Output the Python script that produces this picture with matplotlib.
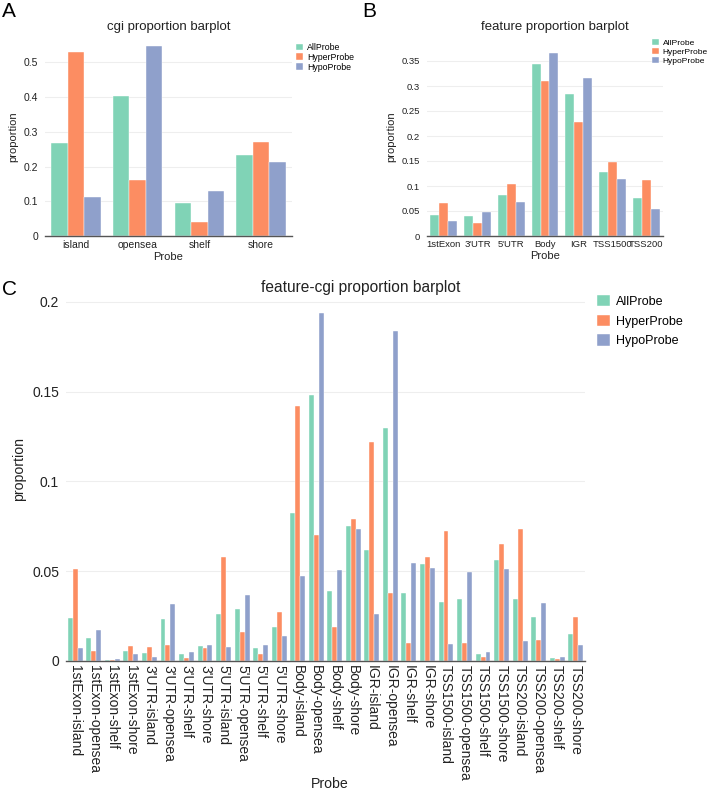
import numpy as np
import matplotlib
matplotlib.use("Agg")
import matplotlib.pyplot as plt

plt.rcParams['font.family'] = ['Liberation Sans', 'DejaVu Sans']

series = ["AllProbe", "HyperProbe", "HypoProbe"]
colors = ["#80d3b6", "#fc8d62", "#8fa0cb"]

# panel A
cgi_cats = ["island", "opensea", "shelf", "shore"]
cgi_all = [0.267, 0.404, 0.095, 0.234]
cgi_hyper = [0.530, 0.160, 0.039, 0.271]
cgi_hypo = [0.112, 0.547, 0.129, 0.213]

# panel B
feat_cats = ["1stExon", "3'UTR", "5'UTR", "Body", "IGR", "TSS1500", "TSS200"]
feat_all = [0.043, 0.041, 0.082, 0.345, 0.284, 0.128, 0.077]
feat_hyper = [0.067, 0.027, 0.105, 0.311, 0.229, 0.149, 0.112]
feat_hypo = [0.030, 0.049, 0.068, 0.366, 0.317, 0.115, 0.055]

# panel C
fc_cats = ["1stExon-island", "1stExon-opensea", "1stExon-shelf", "1stExon-shore",
           "3'UTR-island", "3'UTR-opensea", "3'UTR-shelf", "3'UTR-shore",
           "5'UTR-island", "5'UTR-opensea", "5'UTR-shelf", "5'UTR-shore",
           "Body-island", "Body-opensea", "Body-shelf", "Body-shore",
           "IGR-island", "IGR-opensea", "IGR-shelf", "IGR-shore",
           "TSS1500-island", "TSS1500-opensea", "TSS1500-shelf", "TSS1500-shore",
           "TSS200-island", "TSS200-opensea", "TSS200-shelf", "TSS200-shore"]
fc_all = [0.0237, 0.0130, 0.0006, 0.0054,
          0.0045, 0.0233, 0.0039, 0.0083,
          0.0260, 0.0289, 0.0070, 0.0189,
          0.0822, 0.1480, 0.0389, 0.0754,
          0.0617, 0.1296, 0.0381, 0.0539,
          0.0326, 0.0348, 0.0037, 0.0561,
          0.0343, 0.0244, 0.0017, 0.0148]
fc_hyper = [0.0515, 0.0056, 0.0003, 0.0085,
            0.0080, 0.0089, 0.0019, 0.0074,
            0.0578, 0.0159, 0.0039, 0.0272,
            0.1422, 0.0704, 0.0189, 0.0790,
            0.1222, 0.0376, 0.0098, 0.0580,
            0.0726, 0.0098, 0.0020, 0.0650,
            0.0737, 0.0117, 0.0011, 0.0244]
fc_hypo = [0.0074, 0.0174, 0.0010, 0.0037,
           0.0022, 0.0318, 0.0050, 0.0087,
           0.0076, 0.0367, 0.0089, 0.0139,
           0.0474, 0.1937, 0.0507, 0.0733,
           0.0261, 0.1839, 0.0546, 0.0517,
           0.0093, 0.0494, 0.0048, 0.0510,
           0.0111, 0.0322, 0.0022, 0.0089]

W, H = 709, 792
fig = plt.figure(figsize=(W / 100, H / 100), dpi=100)


def px_axes(left, top, right, bottom):
    return fig.add_axes([left / W, 1 - bottom / H, (right - left) / W, (bottom - top) / H])


def bar_panel(ax, cats, vals, ymax, yticks, title, tick_fs, label_fs, title_fs,
              legend_fs, legend_pos, rot=0, title_x=0.5, title_pad=6, handle=0.8,
              lspace=0.1):
    x = np.arange(len(cats))
    w = 0.8 / 3
    for i, v in enumerate(vals):
        ax.bar(x + (i - 1) * w, v, w, color=colors[i], label=series[i],
               edgecolor="white", linewidth=0.3)
    ax.set_xlim(-0.5, len(cats) - 0.5)
    ax.set_ylim(0, ymax)
    ax.set_yticks(yticks)
    ax.set_yticklabels(["%g" % t for t in yticks])
    ax.set_xticks(x)
    ax.set_xticklabels(cats, rotation=rot, va="top", ha="center")
    ax.tick_params(length=0, labelsize=tick_fs, colors="#222222", pad=3)
    ax.tick_params(axis="y", pad=5)
    ax.yaxis.grid(True, color="#eeeeee", linewidth=0.8)
    ax.set_axisbelow(True)
    for s in ["top", "right", "left"]:
        ax.spines[s].set_visible(False)
    ax.spines["bottom"].set_color("#555555")
    ax.spines["bottom"].set_linewidth(1.0)
    ax.set_ylabel("proportion", fontsize=label_fs, color="#222222")
    ax.set_xlabel("Probe", fontsize=label_fs, color="#222222", labelpad=1)
    ax.set_title(title, fontsize=title_fs, color="#222222", pad=title_pad, x=title_x)
    ax.legend(loc="upper left", bbox_to_anchor=legend_pos, bbox_transform=fig.transFigure,
              frameon=False, fontsize=legend_fs, handlelength=handle, handleheight=handle,
              handletextpad=0.5, labelspacing=lspace, borderaxespad=0, borderpad=0)


axA = px_axes(45, 38, 292, 236)
bar_panel(axA, cgi_cats, [cgi_all, cgi_hyper, cgi_hypo], 0.57,
          [0, 0.1, 0.2, 0.3, 0.4, 0.5],
          "cgi proportion barplot", 7.5, 8, 9.5, 6.3, (296 / W, 1 - 43 / H))

axB = px_axes(427, 38, 663, 236)
bar_panel(axB, feat_cats, [feat_all, feat_hyper, feat_hypo], 0.396,
          [0, 0.05, 0.1, 0.15, 0.2, 0.25, 0.3, 0.35],
          "feature proportion barplot", 6.8, 8, 9.5, 6.0, (652 / W, 1 - 39 / H),
          title_x=0.542)

axC = px_axes(66, 298, 585, 661)
bar_panel(axC, fc_cats, [fc_all, fc_hyper, fc_hypo], 0.2022,
          [0, 0.05, 0.1, 0.15, 0.2],
          "feature-cgi proportion barplot", 10, 10.2, 11.2, 9, (597 / W, 1 - 295 / H),
          rot=-90, title_x=0.568, title_pad=4, handle=1.0, lspace=0.55)
axC.yaxis.set_label_coords((26 - 66) / 519, (661 - 469) / (661 - 298))
axC.xaxis.set_label_coords((330 - 66) / 519, (661 - 777) / (661 - 298))

fig.text(2 / W, 1 - 2 / H, "A", fontsize=15, va="top", ha="left")
fig.text(362 / W, 1 - 2 / H, "B", fontsize=15, va="top", ha="left")
fig.text(2 / W, 1 - 280 / H, "C", fontsize=15, va="top", ha="left")

fig.savefig("out.png", dpi=100, facecolor="white")
